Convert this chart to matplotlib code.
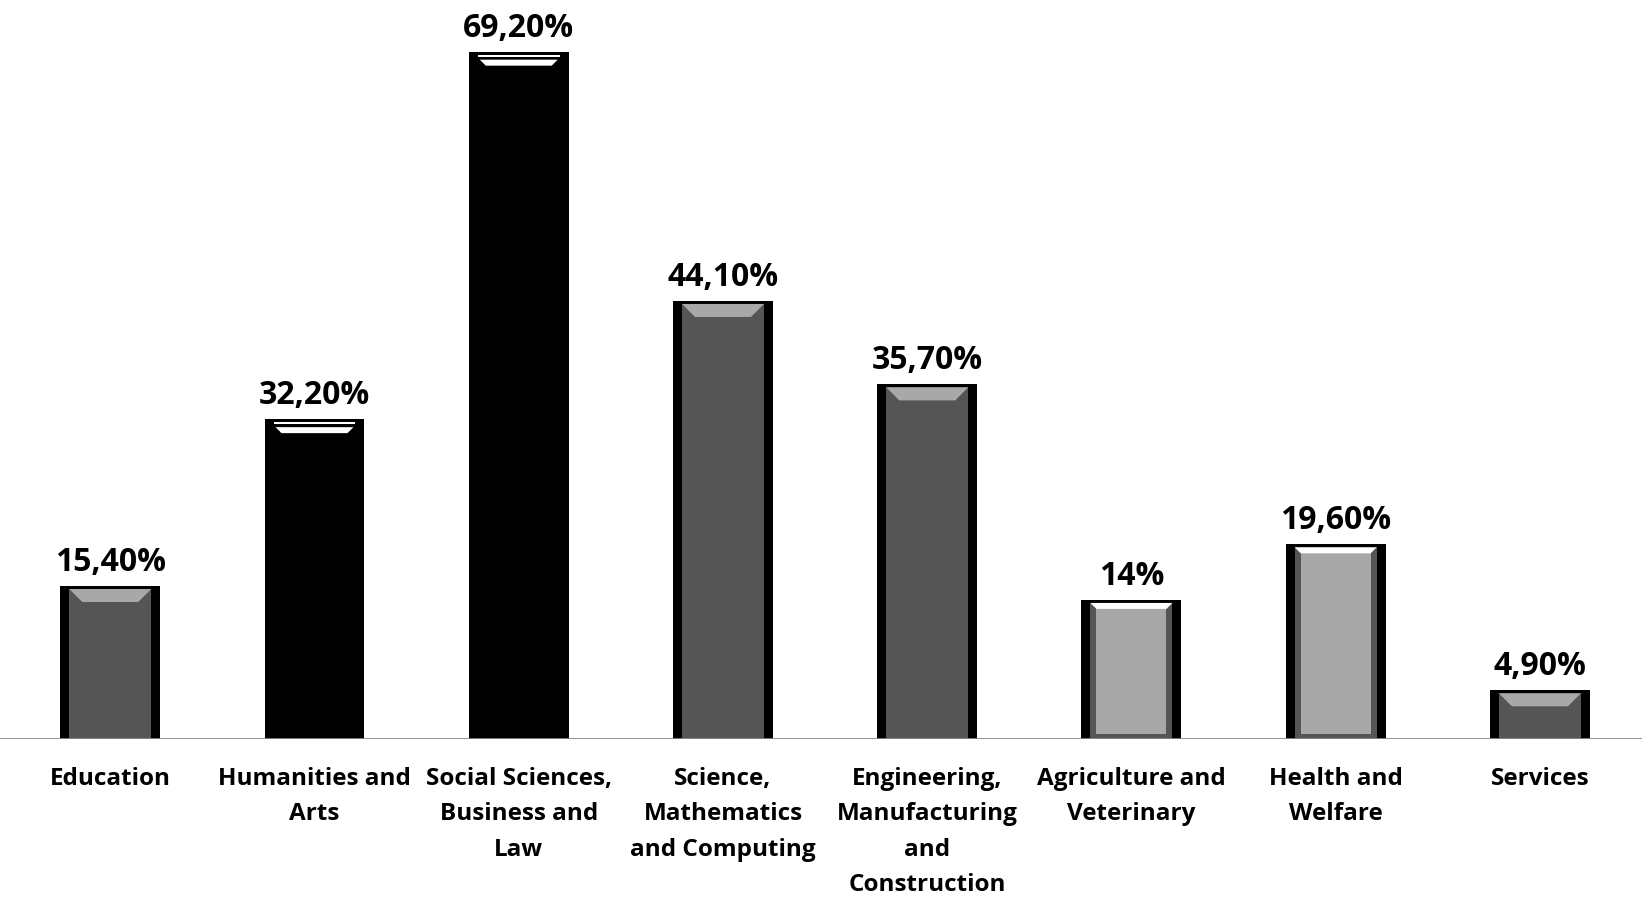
import matplotlib.pyplot as plt
from matplotlib.patches import Polygon, Rectangle

categories = ["Education", "Humanities and\nArts", "Social Sciences,\nBusiness and\nLaw",
              "Science,\nMathematics\nand Computing", "Engineering,\nManufacturing\nand\nConstruction",
              "Agriculture and\nVeterinary", "Health and\nWelfare", "Services"]
values = [15.4, 32.2, 69.2, 44.1, 35.7, 14.0, 19.6, 4.9]
# face style per bar: d = dark grey, k = black, l = light grey
styles = ["d", "k", "k", "d", "d", "l", "l", "d"]

DARK = "#555555"
LIGHT = "#a8a8a8"
FONT = "Open Sans"

def pct(v):
    if v == int(v):
        return "%d%%" % v
    return ("%.2f%%" % v).replace(".", ",")

fig = plt.figure(figsize=(16.42, 8.98), dpi=100)
ax = fig.add_axes([0, 159 / 898, 1, 739 / 898])
ax.set_xlim(-0.54, 7.5)
ax.set_ylim(0, 74.4)

px = 1 / 204.4          # one pixel in x data units
py = 74.4 / 739         # one pixel in y data units
W = 100 * px

for i, (v, s) in enumerate(zip(values, styles)):
    left = i - W / 2
    ax.bar(i, v, width=W, color="black", zorder=2)
    side = 9 * px
    top = 3 * py
    il, ir = left + side, left + W - side
    it = v - top
    if s == "k":
        ax.add_patch(Rectangle((il, it - 2 * py), ir - il, 2 * py, color="white", zorder=3, lw=0))
        ax.add_patch(Polygon([(il + 2 * px, it - 5 * py), (ir - 2 * px, it - 5 * py),
                              (ir - 8 * px, it - 11 * py), (il + 8 * px, it - 11 * py)],
                             closed=True, color="white", zorder=3, lw=0))
    elif s == "d":
        ax.add_patch(Rectangle((il, 0), ir - il, it, color=DARK, zorder=3, lw=0))
        ax.add_patch(Polygon([(il, it), (ir, it), (ir - 13 * px, it - 13 * py),
                              (il + 13 * px, it - 13 * py)],
                             closed=True, color=LIGHT, zorder=4, lw=0))
    else:
        ax.add_patch(Rectangle((il, 0), ir - il, it, color=DARK, zorder=3, lw=0))
        b = 6 * px
        ax.add_patch(Rectangle((il + b, 5 * py), ir - il - 2 * b, it - 5 * py - 6 * py,
                               color=LIGHT, zorder=4, lw=0))
        ax.add_patch(Polygon([(il, it), (ir, it), (ir - b, it - 6 * py), (il + b, it - 6 * py)],
                             closed=True, color="white", zorder=5, lw=0))
    ax.text(i, v + 7 * py, pct(v), ha="center", va="bottom", fontsize=23,
            fontweight="bold", family=FONT)
    ax.text(i, -28 * py, categories[i], ha="center", va="top", fontsize=17.5,
            fontweight="bold", family=FONT, linespacing=1.63, clip_on=False)

ax.axhline(0, color="#888888", lw=2, zorder=6)
for sp in ax.spines.values():
    sp.set_visible(False)
ax.set_xticks([])
ax.set_yticks([])

fig.savefig("out.png", dpi=100)
